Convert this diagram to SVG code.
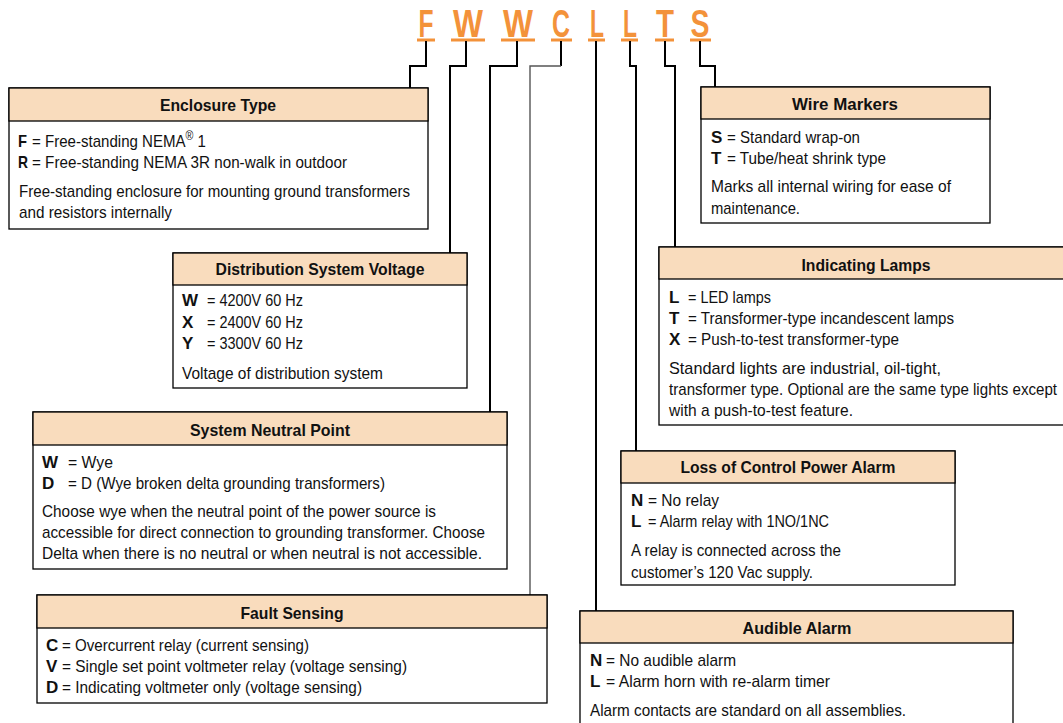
<svg xmlns="http://www.w3.org/2000/svg" width="1063" height="723" viewBox="0 0 1063 723">
<style>
.box{fill:#fff;stroke:#000;stroke-width:1.3}
.hdr{fill:#F9DCBD;stroke:#000;stroke-width:1.3}
text{font-family:"Liberation Sans",Arial,sans-serif;font-size:17px;fill:#111}
.h{font-weight:bold;text-anchor:middle}
.k{font-weight:bold}
.code{font-weight:bold;font-size:38px;fill:#F3923A;text-anchor:middle}
.ul{stroke:#F3923A;stroke-width:3}
.c{fill:none;stroke:#000;stroke-width:2}
.cg{fill:none;stroke:#555;stroke-width:1.4}
</style>
<rect width="1063" height="723" fill="#fff"/>
<g id="code">
<text class="code" x="426" y="37" textLength="15" lengthAdjust="spacingAndGlyphs">F</text>
<text class="code" x="468" y="37" textLength="30" lengthAdjust="spacingAndGlyphs">W</text>
<text class="code" x="518" y="37" textLength="30" lengthAdjust="spacingAndGlyphs">W</text>
<text class="code" x="561" y="37" textLength="18" lengthAdjust="spacingAndGlyphs">C</text>
<text class="code" x="597" y="37" textLength="14" lengthAdjust="spacingAndGlyphs">L</text>
<text class="code" x="630" y="37" textLength="14" lengthAdjust="spacingAndGlyphs">L</text>
<text class="code" x="665" y="37" textLength="18" lengthAdjust="spacingAndGlyphs">T</text>
<text class="code" x="700" y="37" textLength="19" lengthAdjust="spacingAndGlyphs">S</text>
<path class="ul" d="M417 40H435M451 40H485M501 40H535M551 40H572M588 40H605M621 40H638M655 40H674M690 40H711"/>
</g>
<g id="connectors">
<path class="c" d="M426 41V66H410V88"/>
<path class="c" d="M466 41V66H450V253"/>
<path class="c" d="M517 41V66H490V412"/>
<path class="c" d="M561 41V66"/>
<path class="cg" d="M561 66H530V595"/>
<path class="c" d="M596 41V611"/>
<path class="c" d="M630 41V66H636V451"/>
<path class="c" d="M665 41V66H675V247"/>
<path class="c" d="M700 41V66H715V87"/>
</g>
<g id="enclosure-type">
<rect class="box" x="9" y="88" width="419" height="141"/>
<rect class="hdr" x="9" y="88" width="419" height="33"/>
<text class="h" x="218" y="111" textLength="116" lengthAdjust="spacingAndGlyphs">Enclosure Type</text>
<text class="k" x="18" y="147" textLength="9" lengthAdjust="spacingAndGlyphs">F</text>
<text x="32" y="147" textLength="174" lengthAdjust="spacingAndGlyphs">= Free-standing NEMA<tspan dy="-7" style="font-size:12px">®</tspan><tspan dy="7"> 1</tspan></text>
<text class="k" x="18" y="168" textLength="10" lengthAdjust="spacingAndGlyphs">R</text>
<text x="32" y="168" textLength="315" lengthAdjust="spacingAndGlyphs">= Free-standing NEMA 3R non-walk in outdoor</text>
<text x="19" y="197" textLength="391" lengthAdjust="spacingAndGlyphs">Free-standing enclosure for mounting ground transformers</text>
<text x="19" y="218" textLength="153" lengthAdjust="spacingAndGlyphs">and resistors internally</text>
</g>
<g id="distribution-system-voltage">
<rect class="box" x="173" y="253" width="294" height="135"/>
<rect class="hdr" x="173" y="253" width="294" height="32"/>
<text class="h" x="320" y="275" textLength="209" lengthAdjust="spacingAndGlyphs">Distribution System Voltage</text>
<text class="k" x="182" y="306">W</text>
<text x="207" y="306" textLength="96" lengthAdjust="spacingAndGlyphs">= 4200V 60 Hz</text>
<text class="k" x="182" y="328">X</text>
<text x="207" y="328" textLength="96" lengthAdjust="spacingAndGlyphs">= 2400V 60 Hz</text>
<text class="k" x="182" y="349">Y</text>
<text x="207" y="349" textLength="96" lengthAdjust="spacingAndGlyphs">= 3300V 60 Hz</text>
<text x="182" y="379" textLength="201" lengthAdjust="spacingAndGlyphs">Voltage of distribution system</text>
</g>
<g id="system-neutral-point">
<rect class="box" x="33" y="412" width="474" height="157"/>
<rect class="hdr" x="33" y="412" width="474" height="33"/>
<text class="h" x="270" y="436" textLength="160" lengthAdjust="spacingAndGlyphs">System Neutral Point</text>
<text class="k" x="42" y="468">W</text>
<text x="68" y="468" textLength="45" lengthAdjust="spacingAndGlyphs">= Wye</text>
<text class="k" x="42" y="489">D</text>
<text x="68" y="489" textLength="317" lengthAdjust="spacingAndGlyphs">= D (Wye broken delta grounding transformers)</text>
<text x="42" y="517" textLength="394" lengthAdjust="spacingAndGlyphs">Choose wye when the neutral point of the power source is</text>
<text x="42" y="538" textLength="443" lengthAdjust="spacingAndGlyphs">accessible for direct connection to grounding transformer. Choose</text>
<text x="42" y="559" textLength="440" lengthAdjust="spacingAndGlyphs">Delta when there is no neutral or when neutral is not accessible.</text>
</g>
<g id="fault-sensing">
<rect class="box" x="37" y="595" width="510" height="108"/>
<rect class="hdr" x="37" y="595" width="510" height="33"/>
<text class="h" x="292" y="619" textLength="103" lengthAdjust="spacingAndGlyphs">Fault Sensing</text>
<text class="k" x="46" y="651">C</text>
<text x="62" y="651" textLength="247" lengthAdjust="spacingAndGlyphs">= Overcurrent relay (current sensing)</text>
<text class="k" x="46" y="672">V</text>
<text x="62" y="672" textLength="345" lengthAdjust="spacingAndGlyphs">= Single set point voltmeter relay (voltage sensing)</text>
<text class="k" x="46" y="693">D</text>
<text x="62" y="693" textLength="300" lengthAdjust="spacingAndGlyphs">= Indicating voltmeter only (voltage sensing)</text>
</g>
<g id="wire-markers">
<rect class="box" x="701" y="87" width="289" height="136"/>
<rect class="hdr" x="701" y="87" width="289" height="32"/>
<text class="h" x="845" y="110" textLength="106" lengthAdjust="spacingAndGlyphs">Wire Markers</text>
<text class="k" x="711" y="143">S</text>
<text x="727" y="143" textLength="133" lengthAdjust="spacingAndGlyphs">= Standard wrap-on</text>
<text class="k" x="711" y="164">T</text>
<text x="727" y="164" textLength="159" lengthAdjust="spacingAndGlyphs">= Tube/heat shrink type</text>
<text x="711" y="192" textLength="240" lengthAdjust="spacingAndGlyphs">Marks all internal wiring for ease of</text>
<text x="711" y="214" textLength="89" lengthAdjust="spacingAndGlyphs">maintenance.</text>
</g>
<g id="indicating-lamps">
<rect class="box" x="659" y="247" width="410" height="178"/>
<rect class="hdr" x="659" y="247" width="410" height="32"/>
<text class="h" x="866" y="271" textLength="129" lengthAdjust="spacingAndGlyphs">Indicating Lamps</text>
<text class="k" x="669" y="303">L</text>
<text x="688" y="303" textLength="83" lengthAdjust="spacingAndGlyphs">= LED lamps</text>
<text class="k" x="669" y="324">T</text>
<text x="688" y="324" textLength="266" lengthAdjust="spacingAndGlyphs">= Transformer-type incandescent lamps</text>
<text class="k" x="669" y="345">X</text>
<text x="688" y="345" textLength="211" lengthAdjust="spacingAndGlyphs">= Push-to-test transformer-type</text>
<text x="669" y="374" textLength="272" lengthAdjust="spacingAndGlyphs">Standard lights are industrial, oil-tight,</text>
<text x="669" y="395" textLength="388" lengthAdjust="spacingAndGlyphs">transformer type. Optional are the same type lights except</text>
<text x="669" y="416" textLength="184" lengthAdjust="spacingAndGlyphs">with a push-to-test feature.</text>
</g>
<g id="loss-of-control-power-alarm">
<rect class="box" x="621" y="451" width="334" height="134"/>
<rect class="hdr" x="621" y="451" width="334" height="32"/>
<text class="h" x="788" y="473" textLength="215" lengthAdjust="spacingAndGlyphs">Loss of Control Power Alarm</text>
<text class="k" x="631" y="506">N</text>
<text x="648" y="506" textLength="71" lengthAdjust="spacingAndGlyphs">= No relay</text>
<text class="k" x="631" y="527">L</text>
<text x="648" y="527" textLength="181" lengthAdjust="spacingAndGlyphs">= Alarm relay with 1NO/1NC</text>
<text x="631" y="556" textLength="210" lengthAdjust="spacingAndGlyphs">A relay is connected across the</text>
<text x="631" y="578" textLength="182" lengthAdjust="spacingAndGlyphs">customer’s 120 Vac supply.</text>
</g>
<g id="audible-alarm">
<rect class="box" x="580" y="611" width="433" height="120"/>
<rect class="hdr" x="580" y="611" width="433" height="32"/>
<text class="h" x="797" y="634" textLength="109" lengthAdjust="spacingAndGlyphs">Audible Alarm</text>
<text class="k" x="590" y="666">N</text>
<text x="606" y="666" textLength="130" lengthAdjust="spacingAndGlyphs">= No audible alarm</text>
<text class="k" x="590" y="687">L</text>
<text x="606" y="687" textLength="224" lengthAdjust="spacingAndGlyphs">= Alarm horn with re-alarm timer</text>
<text x="590" y="716" textLength="316" lengthAdjust="spacingAndGlyphs">Alarm contacts are standard on all assemblies.</text>
</g>
</svg>
